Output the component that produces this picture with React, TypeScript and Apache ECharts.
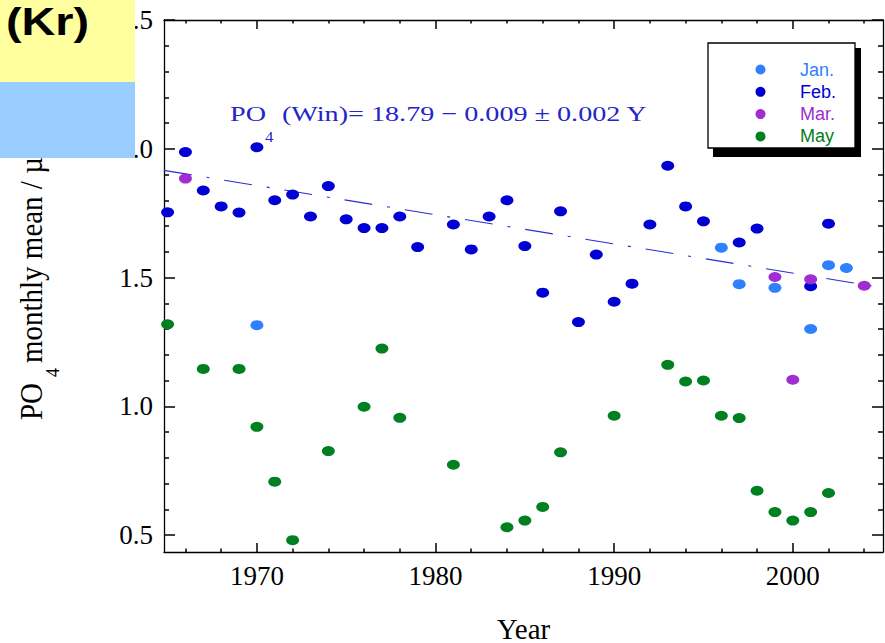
import React, { useEffect, useRef } from "react";
import * as echarts from "echarts";

// ---- data ----
const janYears = [1970, 1996, 1997, 1999, 2001, 2002, 2003];
const janValues = [1.315, 1.616, 1.474, 1.46, 1.3, 1.548, 1.537];

const febYears = [
  1965, 1966, 1967, 1968, 1969, 1970, 1971, 1972, 1973, 1974, 1975, 1976, 1977,
  1978, 1979, 1981, 1982, 1983, 1984, 1985, 1986, 1987, 1988, 1989, 1990, 1991,
  1992, 1993, 1994, 1995, 1997, 1998, 2001, 2002,
];
const febValues = [
  1.753, 1.987, 1.838, 1.776, 1.752, 2.006, 1.8, 1.822, 1.737, 1.855, 1.726,
  1.692, 1.692, 1.737, 1.618, 1.706, 1.609, 1.737, 1.8, 1.622, 1.441, 1.757,
  1.327, 1.589, 1.406, 1.476, 1.706, 1.934, 1.776, 1.718, 1.636, 1.69, 1.466,
  1.709,
];

const marYears = [1966, 1999, 2000, 2001, 2004];
const marValues = [1.884, 1.502, 1.103, 1.493, 1.468];

const mayYears = [
  1965, 1967, 1969, 1970, 1971, 1972, 1974, 1976, 1977, 1978, 1981, 1984, 1985,
  1986, 1987, 1990, 1993, 1994, 1995, 1996, 1997, 1998, 1999, 2000, 2001, 2002,
];
const mayValues = [
  1.318, 1.145, 1.145, 0.92, 0.707, 0.48, 0.826, 0.998, 1.224, 0.955, 0.773,
  0.53, 0.556, 0.609, 0.821, 0.963, 1.161, 1.096, 1.1, 0.963, 0.954, 0.672,
  0.589, 0.556, 0.589, 0.663,
];

const trendYears = [1964.8, 2005.05];
const trendValues = [1.916, 1.46];

const xMajorTicks = [1970, 1980, 1990, 2000];
const xMinorTicks = [
  1966, 1968, 1972, 1974, 1976, 1978, 1982, 1984, 1986, 1988, 1992, 1994, 1996,
  1998, 2002, 2004,
];
const yMajorTicks = [0.5, 1.0, 1.5, 2.0, 2.5];
const yMinorTicks = [
  0.6, 0.7, 0.8, 0.9, 1.1, 1.2, 1.3, 1.4, 1.6, 1.7, 1.8, 1.9, 2.1, 2.2, 2.3, 2.4,
];

const seriesNames = ["Jan.", "Feb.", "Mar.", "May"];

const JAN = "#2f80ff";
const FEB = "#0000d2";
const MAR = "#a02cd2";
const MAY = "#008020";
const FIT = "#2424c8";

const SERIF = "'Liberation Serif', 'Times New Roman', serif";
const SANS = "'Liberation Sans', Arial, sans-serif";

const X_MIN = 1964.8;
const X_MAX = 2005.05;
const Y_MIN = 0.434;
const Y_MAX = 2.5;

function pairs(xs: number[], ys: number[]) {
  return xs.map((x, i) => [x, ys[i]]);
}

export default function App() {
  const ref = useRef<HTMLDivElement>(null);

  useEffect(() => {
    if (!ref.current) return;
    const chart = echarts.init(ref.current, undefined, { renderer: "svg" });

    const lineStyle = { color: "#000", width: 1.3 };
    const tickStyle = { color: "#000", width: 1.5 };

    const xAxisDef = (
      position: "bottom" | "top",
      ticks: number[],
      len: number,
      line: boolean,
      extra: any = {}
    ) => ({
      type: "value",
      position,
      min: X_MIN,
      max: X_MAX,
      axisLine: { show: line, onZero: false, lineStyle },
      axisTick: { show: true, inside: true, length: len, customValues: ticks, lineStyle: tickStyle },
      axisLabel: { show: false },
      splitLine: { show: false },
      ...extra,
    });

    const yAxisDef = (
      position: "left" | "right",
      ticks: number[],
      len: number,
      line: boolean,
      extra: any = {}
    ) => ({
      type: "value",
      position,
      min: Y_MIN,
      max: Y_MAX,
      axisLine: { show: line, onZero: false, lineStyle },
      axisTick: { show: true, inside: true, length: len, customValues: ticks, lineStyle: tickStyle },
      axisLabel: { show: false },
      splitLine: { show: false },
      ...extra,
    });

    const scatter = (name: string, color: string, xs: number[], ys: number[]) => ({
      type: "scatter",
      name,
      xAxisIndex: 0,
      yAxisIndex: 0,
      symbol: "circle",
      symbolSize: [13, 10],
      itemStyle: { color, opacity: 1 },
      data: pairs(xs, ys),
      z: 3,
    });

    chart.setOption({
      animation: false,
      backgroundColor: "#fff",
      grid: {
        left: 164,
        right: 2,
        top: 20,
        bottom: 91,
        containLabel: false,
        outerBoundsMode: "none",
      },
      xAxis: [
        xAxisDef("bottom", xMajorTicks, 9, true, {
          axisLabel: {
            show: true,
            customValues: xMajorTicks,
            fontFamily: SERIF,
            fontSize: 27,
            color: "#000",
            margin: 10,
            formatter: (v: number) => String(v),
          },
          name: "Year",
          nameLocation: "middle",
          nameGap: 62,
          nameTextStyle: { fontFamily: SERIF, fontSize: 29, color: "#000" },
        }),
        xAxisDef("bottom", xMinorTicks, 3.5, false),
        xAxisDef("top", xMajorTicks, 9, true),
        xAxisDef("top", xMinorTicks, 3.5, false),
      ],
      yAxis: [
        yAxisDef("left", yMajorTicks, 11, true, {
          axisLabel: {
            show: true,
            customValues: yMajorTicks,
            fontFamily: SERIF,
            fontSize: 27,
            color: "#000",
            margin: 11,
            formatter: (v: number) => v.toFixed(1),
          },
        }),
        yAxisDef("left", yMinorTicks, 5, false),
        yAxisDef("right", yMajorTicks, 11, true),
        yAxisDef("right", yMinorTicks, 5, false),
      ],
      legend: {
        show: true,
        orient: "vertical",
        left: 750.5,
        top: 54.5,
        icon: "circle",
        itemWidth: 13,
        itemHeight: 10,
        itemGap: 2.3,
        z: 5,
        textStyle: {
          fontFamily: SANS,
          fontSize: 18,
          lineHeight: 20,
          padding: [0, 0, 0, 28],
        },
        data: [
          { name: seriesNames[0], textStyle: { color: JAN } },
          { name: seriesNames[1], textStyle: { color: FEB } },
          { name: seriesNames[2], textStyle: { color: MAR } },
          { name: seriesNames[3], textStyle: { color: MAY } },
        ],
      },
      series: [
        {
          type: "line",
          name: "trend",
          xAxisIndex: 0,
          yAxisIndex: 0,
          data: pairs(trendYears, trendValues),
          showSymbol: false,
          symbol: "none",
          lineStyle: { color: "#2b2bd6", width: 1.1, type: [28, 15, 3, 15] },
          z: 2,
          silent: true,
        },
        scatter(seriesNames[0], JAN, janYears, janValues),
        scatter(seriesNames[1], FEB, febYears, febValues),
        scatter(seriesNames[2], MAR, marYears, marValues),
        scatter(seriesNames[3], MAY, mayYears, mayValues),
      ],
      graphic: [
        // legend frame with drop shadow
        {
          type: "rect",
          z: 3,
          shape: { x: 713, y: 48, width: 148, height: 109 },
          style: { fill: "#000" },
        },
        {
          type: "rect",
          z: 3,
          shape: { x: 708, y: 43, width: 147, height: 105 },
          style: { fill: "#fff", stroke: "#000", lineWidth: 1.3 },
        },
        // fit equation
        {
          type: "text",
          z: 4,
          x: 230,
          y: 113.5,
          scaleX: 1.28,
          style: {
            text: "PO",
            fontFamily: SERIF,
            fontSize: 22,
            fill: FIT,
            align: "left",
            verticalAlign: "middle",
          },
        },
        {
          type: "text",
          z: 4,
          x: 265,
          y: 137.5,
          scaleX: 1.2,
          style: {
            text: "4",
            fontFamily: SERIF,
            fontSize: 14,
            fill: FIT,
            align: "left",
            verticalAlign: "middle",
          },
        },
        {
          type: "text",
          z: 4,
          x: 282,
          y: 113.5,
          scaleX: 1.28,
          style: {
            text: "(Win)= 18.79 \u2212 0.009 \u00b1 0.002 Y",
            fontFamily: SERIF,
            fontSize: 22,
            fill: FIT,
            align: "left",
            verticalAlign: "middle",
          },
        },
        // y axis title (rotated)
        {
          type: "text",
          z: 4,
          x: 31,
          y: 420,
          rotation: Math.PI / 2,
          scaleY: 1.12,
          style: {
            text: "PO",
            fontFamily: SERIF,
            fontSize: 29,
            fill: "#000",
            align: "left",
            verticalAlign: "middle",
          },
        },
        {
          type: "text",
          z: 4,
          x: 52.5,
          y: 377,
          rotation: Math.PI / 2,
          style: {
            text: "4",
            fontFamily: SERIF,
            fontSize: 18,
            fill: "#000",
            align: "left",
            verticalAlign: "middle",
          },
        },
        {
          type: "text",
          z: 4,
          x: 31,
          y: 363,
          rotation: Math.PI / 2,
          scaleY: 1.12,
          style: {
            text: "monthly mean / \u00b5mol/l",
            fontFamily: SERIF,
            fontSize: 29,
            fill: "#000",
            align: "left",
            verticalAlign: "middle",
          },
        },
        // overlay boxes at top-left
        {
          type: "rect",
          z: 10,
          shape: { x: 0, y: 0, width: 135, height: 82 },
          style: { fill: "#ffff9f" },
        },
        {
          type: "rect",
          z: 10,
          shape: { x: 0, y: 82, width: 135, height: 76 },
          style: { fill: "#99ccff" },
        },
        {
          type: "text",
          z: 11,
          x: 6,
          y: 22,
          scaleX: 1.23,
          style: {
            text: "(Kr)",
            fontFamily: SANS,
            fontWeight: "bold",
            fontSize: 38,
            fill: "#000",
            align: "left",
            verticalAlign: "middle",
          },
        },
      ],
    });

    return () => {
      chart.dispose();
    };
  }, []);

  return (
    <div
      ref={ref}
      style={{
        position: "fixed",
        left: 0,
        top: 0,
        width: "885px",
        height: "643px",
        background: "#fff",
      }}
    />
  );
}
